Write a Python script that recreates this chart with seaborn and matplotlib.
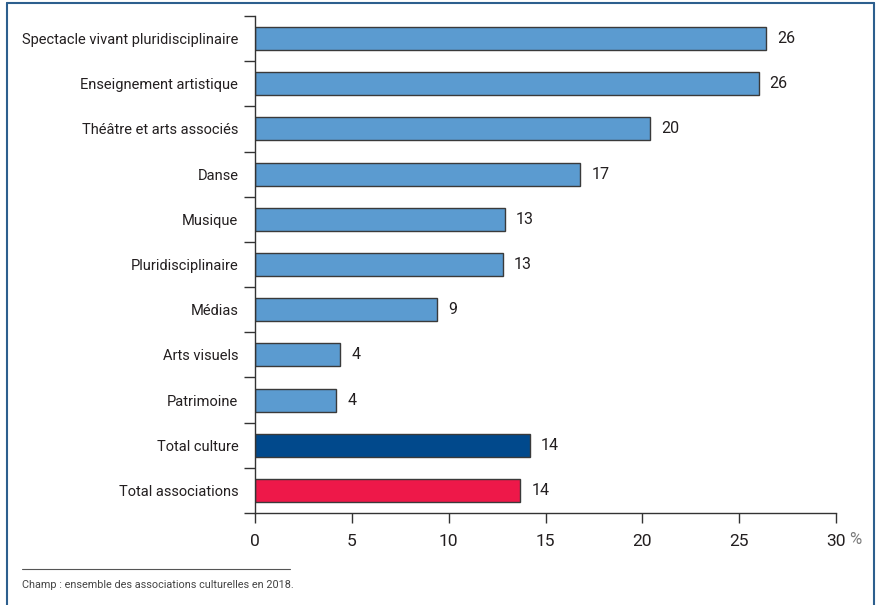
import matplotlib
matplotlib.use("Agg")
import matplotlib.pyplot as plt
import seaborn as sns
import pandas as pd
from matplotlib.lines import Line2D

# catégories et parts (%)
categories = [
    "Spectacle vivant pluridisciplinaire",
    "Enseignement artistique",
    "Théâtre et arts associés",
    "Danse",
    "Musique",
    "Pluridisciplinaire",
    "Médias",
    "Arts visuels",
    "Patrimoine",
    "Total culture",
    "Total associations",
]
values = [26.4, 26.0, 20.4, 16.8, 12.9, 12.8, 9.4, 4.4, 4.2, 14.2, 13.7]
bar_colors = ["#5b9bd0"] * 9 + ["#01498c", "#ee1849"]
x_ticks = [0, 5, 10, 15, 20, 25, 30]
note = "Champ : ensemble des associations culturelles en 2018."

TXT = "#231f20"

sns.set_theme(style="white")
plt.rcParams["font.family"] = ["Roboto", "DejaVu Sans"]

df = pd.DataFrame({"cat": categories, "val": values})

fig = plt.figure(figsize=(8.76, 6.05), dpi=100)
ax = fig.add_axes([255 / 876, 1 - 513 / 605, (836 - 255) / 876, (513 - 16) / 605])

sns.barplot(data=df, x="val", y="cat", hue="cat", palette=bar_colors,
            saturation=1, legend=False, width=0.51, edgecolor="#3a3a3a",
            linewidth=1.0, orient="h", ax=ax)

# étiquettes de valeurs arrondies
for cont in ax.containers:
    ax.bar_label(cont, labels=[f"{v:.0f}" for v in cont.datavalues],
                 padding=8, fontsize=11.5, color=TXT)

ax.set_xlim(0, 30)
ax.set_ylim(len(categories) - 0.5, -0.5)
ax.set_xticks(x_ticks)
ax.set_xticklabels([str(t) for t in x_ticks], fontsize=12.5, color=TXT)
ax.tick_params(axis="x", direction="out", length=7, width=1, color="#333333",
               pad=8, bottom=True)
ax.tick_params(axis="y", which="major", length=0, pad=12, labelsize=10.5,
               labelcolor=TXT)
ax.set_yticks([i + 0.5 for i in range(-1, len(categories))], minor=True)
ax.tick_params(axis="y", which="minor", direction="out", length=8, width=1,
               color="#333333", left=True)
ax.set_xlabel("")
ax.set_ylabel("")

for s in ["top", "right"]:
    ax.spines[s].set_visible(False)
for s in ["left", "bottom"]:
    ax.spines[s].set_color("#333333")
    ax.spines[s].set_linewidth(1)

# "%" après 30
fig.text(849 / 876, 1 - 540 / 605, "%", ha="left", va="center",
         fontsize=12, color="#7a7a7a")

# note de bas de figure
fig.add_artist(Line2D([22 / 876, 290 / 876], [1 - 569 / 605] * 2,
                      color="#555555", lw=0.8))
fig.text(22 / 876, 1 - 585 / 605, note, ha="left", va="center",
         fontsize=7.8, color="#444444")

# cadre
frame = "#2d5f8e"
fig.add_artist(Line2D([7 / 876, 7 / 876], [0, 1 - 3 / 605], color=frame, lw=1.5))
fig.add_artist(Line2D([7 / 876, 874 / 876], [1 - 3 / 605] * 2, color=frame, lw=1.5))
fig.add_artist(Line2D([874 / 876, 874 / 876], [0, 1 - 3 / 605], color=frame, lw=1.5))

fig.savefig("out.png", dpi=100)
